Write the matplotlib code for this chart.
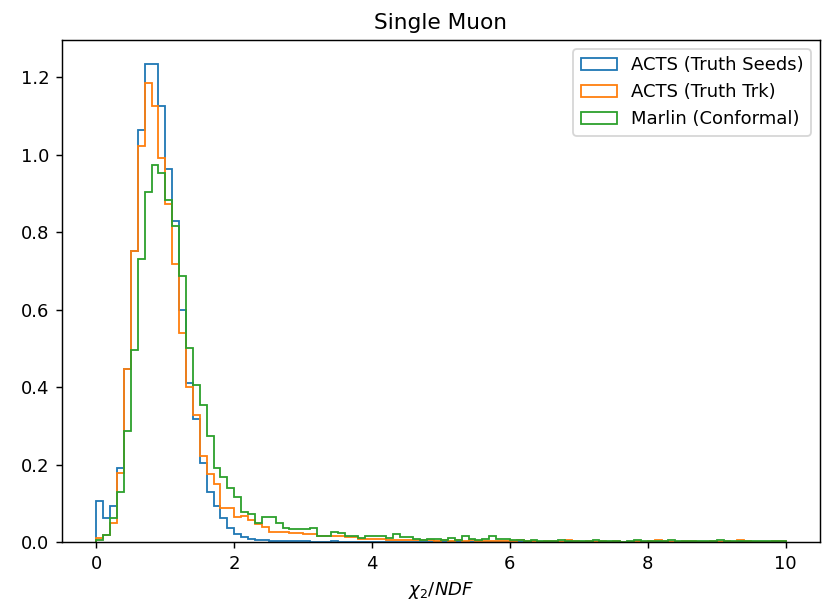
import numpy as np
import matplotlib
matplotlib.use("Agg")
import matplotlib.pyplot as plt

# chi2/NDF binning: 100 bins of width 0.1 between 0 and 10
bin_edges = np.linspace(0, 10, 101)

# normalised bin contents
truth_seeds = [
    0.106, 0.063, 0.094, 0.192, 0.448, 0.751, 1.065, 1.235, 1.235, 1.126,
    0.964, 0.828, 0.599, 0.412, 0.317, 0.205, 0.130, 0.092, 0.063, 0.035,
    0.020, 0.013, 0.007, 0.005, 0.004, 0.003, 0.003, 0.003, 0.003, 0.002,
    0.002, 0.001, 0.000, 0.001, 0.002, 0.001, 0.000, 0.000, 0.000, 0.000,
    0.000, 0.000, 0.000, 0.000, 0.000, 0.000, 0.000, 0.000, 0.000, 0.000,
    0.000, 0.000, 0.000, 0.000, 0.000, 0.000, 0.000, 0.000, 0.000, 0.000,
    0.000, 0.000, 0.000, 0.000, 0.000, 0.000, 0.000, 0.000, 0.000, 0.000,
    0.000, 0.000, 0.000, 0.000, 0.000, 0.000, 0.000, 0.000, 0.000, 0.000,
    0.000, 0.000, 0.000, 0.000, 0.000, 0.000, 0.000, 0.000, 0.000, 0.000,
    0.000, 0.000, 0.000, 0.000, 0.000, 0.000, 0.000, 0.000, 0.000, 0.000,
]

truth_trk = [
    0.010, 0.018, 0.050, 0.179, 0.448, 0.751, 1.024, 1.185, 1.126, 0.992,
    0.874, 0.719, 0.541, 0.401, 0.328, 0.222, 0.175, 0.151, 0.089, 0.087,
    0.065, 0.066, 0.057, 0.046, 0.040, 0.026, 0.025, 0.025, 0.022, 0.022,
    0.020, 0.020, 0.016, 0.016, 0.015, 0.015, 0.013, 0.013, 0.008, 0.008,
    0.007, 0.007, 0.005, 0.005, 0.006, 0.005, 0.004, 0.004, 0.005, 0.003,
    0.004, 0.003, 0.004, 0.003, 0.004, 0.003, 0.003, 0.003, 0.002, 0.003,
    0.002, 0.006, 0.002, 0.002, 0.001, 0.002, 0.002, 0.001, 0.006, 0.002,
    0.001, 0.002, 0.001, 0.002, 0.001, 0.002, 0.001, 0.001, 0.002, 0.001,
    0.002, 0.006, 0.002, 0.001, 0.001, 0.003, 0.003, 0.001, 0.001, 0.002,
    0.001, 0.002, 0.001, 0.006, 0.002, 0.001, 0.001, 0.001, 0.003, 0.003,
]

marlin_conformal = [
    0.006, 0.018, 0.063, 0.130, 0.286, 0.497, 0.732, 0.904, 0.975, 0.953,
    0.883, 0.815, 0.686, 0.500, 0.405, 0.353, 0.275, 0.192, 0.168, 0.140,
    0.115, 0.078, 0.073, 0.049, 0.065, 0.064, 0.050, 0.037, 0.034, 0.033,
    0.033, 0.037, 0.016, 0.016, 0.027, 0.022, 0.016, 0.016, 0.010, 0.016,
    0.016, 0.016, 0.010, 0.020, 0.012, 0.012, 0.008, 0.006, 0.008, 0.008,
    0.006, 0.010, 0.006, 0.015, 0.008, 0.006, 0.008, 0.015, 0.008, 0.007,
    0.006, 0.004, 0.003, 0.004, 0.003, 0.002, 0.003, 0.004, 0.003, 0.002,
    0.003, 0.003, 0.004, 0.002, 0.003, 0.003, 0.000, 0.003, 0.004, 0.003,
    0.002, 0.003, 0.003, 0.004, 0.003, 0.002, 0.003, 0.003, 0.002, 0.003,
    0.005, 0.003, 0.002, 0.003, 0.003, 0.002, 0.003, 0.003, 0.002, 0.002,
]

series_labels = ["ACTS (Truth Seeds)", "ACTS (Truth Trk)", "Marlin (Conformal)"]


def plot_chi2(edges, series, labels, output_path="out.png"):
    """
    Draw the step histograms of chi2/NDF for each reconstruction and save them.

    Parameters:
    - edges (array): bin edges shared by every series.
    - series (list): list of bin contents, one per reconstruction.
    - labels (list): legend entries.
    - output_path (str): where the png goes.
    """
    dpi = 130
    fig = plt.figure(figsize=(828 / dpi, 600 / dpi), dpi=dpi)
    ax = fig.add_axes([62 / 828, 58 / 600, 758 / 828, 502 / 600])

    centers = 0.5 * (edges[:-1] + edges[1:])
    for values, label in zip(series, labels):
        ax.hist(centers, bins=edges, weights=values, histtype="step", label=label)

    ax.set_xlabel(r"$\chi_2/NDF$")
    ax.set_title("Single Muon")
    ax.legend(loc="upper right")

    fig.savefig(output_path, dpi=dpi)
    plt.close(fig)


plot_chi2(bin_edges, [truth_seeds, truth_trk, marlin_conformal], series_labels)
